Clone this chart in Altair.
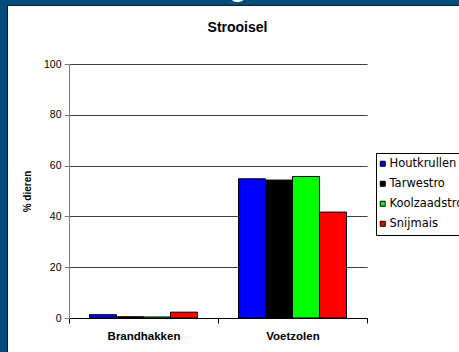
import altair as alt
import pandas as pd

categories = ["Brandhakken", "Voetzolen"]
series = ["Houtkrullen", "Tarwestro", "Koolzaadstro", "Snijmais"]
houtkrullen = [1.3, 54.8]
tarwestro = [0.5, 54.3]
koolzaadstro = [0.4, 55.7]
snijmais = [2.3, 41.7]
colors = ["#0000FF", "#000000", "#00FF00", "#FF0000"]
y_ticks = [0, 20, 40, 60, 80, 100]
chart_title = "Strooisel"
y_title = "% dieren"

rows = []
for s, vals in zip(series, [houtkrullen, tarwestro, koolzaadstro, snijmais]):
    for c, v in zip(categories, vals):
        rows.append({"categorie": c, "strooisel": s, "waarde": v})
df = pd.DataFrame(rows)
one = pd.DataFrame({"k": [0]})

FONT = "Liberation Sans"
BLUE = "#014C7B"
W, H = 298, 254

bars = alt.Chart(df).mark_bar(stroke="black", strokeWidth=1).encode(
    x=alt.X(
        "categorie:N", sort=categories,
        scale=alt.Scale(paddingInner=0, paddingOuter=0),
        axis=alt.Axis(title=None, labelAngle=0, tickBand="extent", labelFont=FONT,
                      labelFontWeight="bold", labelFontSize=11.5, labelColor="black",
                      labelPadding=7, tickSize=5, domainColor="black", tickColor="black",
                      grid=False),
    ),
    xOffset=alt.XOffset("strooisel:N", sort=series,
                        scale=alt.Scale(paddingInner=0, paddingOuter=0.76)),
    y=alt.Y(
        "waarde:Q", scale=alt.Scale(domain=[0, 100], nice=False),
        axis=alt.Axis(values=y_ticks, title=y_title, titleFont=FONT, titleFontSize=10,
                      titleFontWeight="bold", titleColor="black", titlePadding=11,
                      labelFont=FONT, labelFontSize=10.5, labelColor="black",
                      labelPadding=3, tickSize=5, tickColor="#808080",
                      domainColor="#808080", grid=True, gridColor="#404040"),
    ),
    color=alt.Color(
        "strooisel:N", sort=series,
        scale=alt.Scale(domain=series, range=colors),
        legend=alt.Legend(title=None, orient="none", legendX=307, legendY=89,
                          strokeColor="black", fillColor="white", padding=5,
                          symbolOffset=-4,
                          symbolType="square", symbolSize=25, symbolStrokeColor="black",
                          symbolStrokeWidth=1, labelFont="DejaVu Sans", labelFontSize=11.5,
                          labelColor="black", rowPadding=7, labelOffset=1),
    ),
)

title_txt = alt.Chart(one).mark_text(
    text=chart_title, font=FONT, fontSize=14, fontWeight="bold", color="black",
    align="center", baseline="alphabetic",
).encode(x=alt.value(168.5), y=alt.value(-32.5))

left_strip = alt.Chart(one).mark_rect(color=BLUE).encode(
    x=alt.value(-69), x2=alt.value(-62), y=alt.value(-64), y2=alt.value(300))
top_strip = alt.Chart(one).mark_rect(color=BLUE).encode(
    x=alt.value(-69), x2=alt.value(400), y=alt.value(-64), y2=alt.value(-59))
left_line = alt.Chart(one).mark_rect(color="#1a1a1a").encode(
    x=alt.value(-62), x2=alt.value(-61), y=alt.value(-59), y2=alt.value(300))
top_line = alt.Chart(one).mark_rect(color="#1a1a1a").encode(
    x=alt.value(-62), x2=alt.value(400), y=alt.value(-59), y2=alt.value(-58))
g_glyph = alt.Chart(one).mark_text(
    text="g", font=FONT, fontSize=28, fontWeight="bold", color="white",
    align="center", baseline="alphabetic",
).encode(x=alt.value(169), y=alt.value(-68))

chart = alt.layer(
    bars, title_txt, left_strip, top_strip, left_line, top_line, g_glyph
).properties(
    width=W, height=H,
    autosize=alt.AutoSizeParams(type="none"),
    padding={"left": 69, "top": 64, "right": 92, "bottom": 34},
    background="white",
).configure_view(stroke=None)

chart.save("out.html", embed_options={"renderer": "svg", "actions": False})
